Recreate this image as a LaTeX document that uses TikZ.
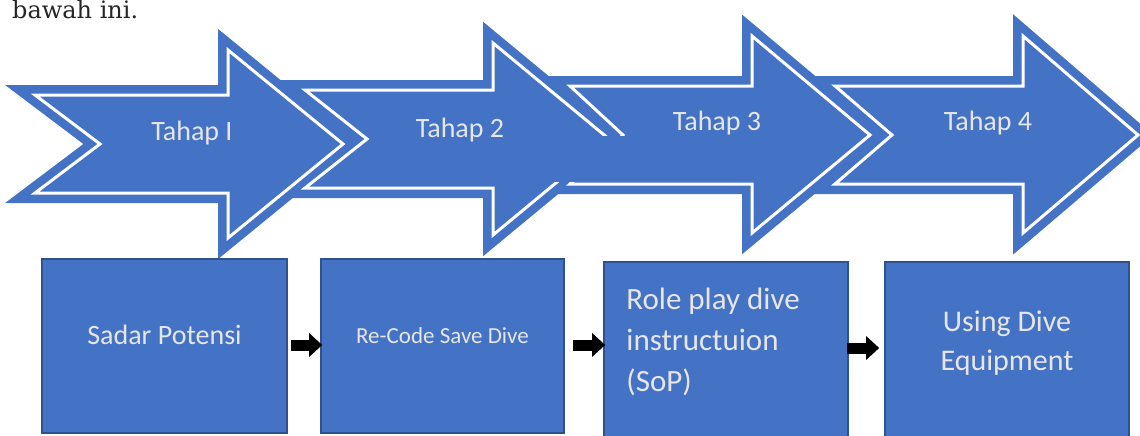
\documentclass[tikz,border=0pt]{standalone}
\usepackage{fontspec}
\setmainfont{Carlito}
\newfontfamily\bodyserif{DejaVu Serif}
\usetikzlibrary{arrows.meta, calc}
\definecolor{tahapBlue}{HTML}{4472C4}
\definecolor{tahapEdge}{HTML}{2F528F}
\definecolor{tahapText}{HTML}{E6E6E6}
\definecolor{bodyText}{HTML}{262626}

% outlines of the four notched stage arrows (x right, y down)
\newcommand{\stageOne}{(35,95) -- (228,95) -- (228,50) -- (343,144) -- (228,238) -- (228,193) -- (35,193) -- (100,144) -- cycle}
\newcommand{\stageTwo}{(305,90) -- (493,90) -- (493,43) -- (609,139) -- (493,235) -- (493,188) -- (305,188) -- (367,139) -- cycle}
\newcommand{\stageThree}{(570,86) -- (752,86) -- (752,36) -- (870,135) -- (752,233) -- (752,184) -- (570,184) -- (623,135) -- cycle}
\newcommand{\stageFour}{(835,86) -- (1023,86) -- (1023,36) -- (1138,135) -- (1023,233) -- (1023,184) -- (835,184) -- (892,135) -- cycle}

\begin{document}
\begin{tikzpicture}[
    x=1pt, y=-1pt,
    stageband/.style={
        draw=tahapBlue, fill=tahapBlue, line width=20pt
    },
    stageline/.style={
        draw=white, line width=3pt
    },
    stagelabel/.style={
        font={\fontsize{28pt}{34pt}\selectfont}, text=tahapText, inner sep=0pt
    },
    phasebox/.style={
        draw=tahapEdge, line width=1.6pt, fill=tahapBlue,
        minimum height=174pt, inner sep=0pt
    },
    phasetext/.style={
        text=tahapText, inner sep=0pt
    },
    flowarrow/.style={
        draw=black, line width=11pt,
        -{Triangle[length=13pt, width=23pt]}
    }
]
\useasboundingbox (0,0) rectangle (1140,436);

% === Line of text above ===
\node[anchor=base west, inner sep=0pt, text=bodyText,
      font={\bodyserif\fontsize{24pt}{30pt}\selectfont}] (intro) at (12,19) {bawah ini.};

% === Stage arrows ===
% blue bodies first, white inner outlines on top
\path[stageband] \stageOne;
\path[stageband] \stageTwo;
\path[stageband] \stageThree;
\path[stageband] \stageFour;
\path[stageline] \stageOne;
\path[stageline] \stageTwo;
\path[stageline] \stageThree;
\path[stageline] \stageFour;
% overlap where arrow 3 swallows the tip of arrow 2
\fill[tahapBlue] (548,136) rectangle (628,181.5);

\node[stagelabel] (tahap1) at (192,133) {Tahap I};
\node[stagelabel] (tahap2) at (460,130) {Tahap 2};
\node[stagelabel] (tahap3) at (717,123) {Tahap 3};
\node[stagelabel] (tahap4) at (988,123) {Tahap 4};

% === Activity boxes ===
\node[phasebox, minimum width=245pt] (b1) at (164.5,346) {};
\node[phasebox, minimum width=243pt] (b2) at (442.5,346) {};
\node[phasebox, minimum width=244pt, minimum height=178pt] (b3) at (726,351) {};
\node[phasebox, minimum width=244pt, minimum height=178pt] (b4) at (1007,351) {};

\node[phasetext, font={\fontsize{28pt}{34pt}\selectfont}]
      (t1) at ($(b1.center)+(0,-11)$) {Sadar Potensi};
\node[phasetext, font={\fontsize{23pt}{28pt}\selectfont}]
      (t2) at ($(b2.center)+(0,-10)$) {Re-Code Save Dive};
\node[phasetext, font={\fontsize{31pt}{41pt}\selectfont}, align=left, anchor=west]
      (t3) at ($(b3.west)+(23,-9)$) {Role play dive\\instructuion\\(SoP)};
\node[phasetext, font={\fontsize{30pt}{39pt}\selectfont}, align=center]
      (t4) at ($(b4.center)+(0,-7.5)$) {Using Dive\\Equipment};

% === Flow between boxes ===
\draw[flowarrow] ($(b1.east)+(3,-1)$) -- ($(b2.west)+(2,-1)$);
\draw[flowarrow] ($(b2.east)+(8,-1)$) -- ($(b2.east -| b3.west)+(2,-1)$);
\draw[flowarrow] ($(b3.east)+(-2,-3)$) -- ($(b4.west)+(-5,-3)$);

\end{tikzpicture}
\end{document}
